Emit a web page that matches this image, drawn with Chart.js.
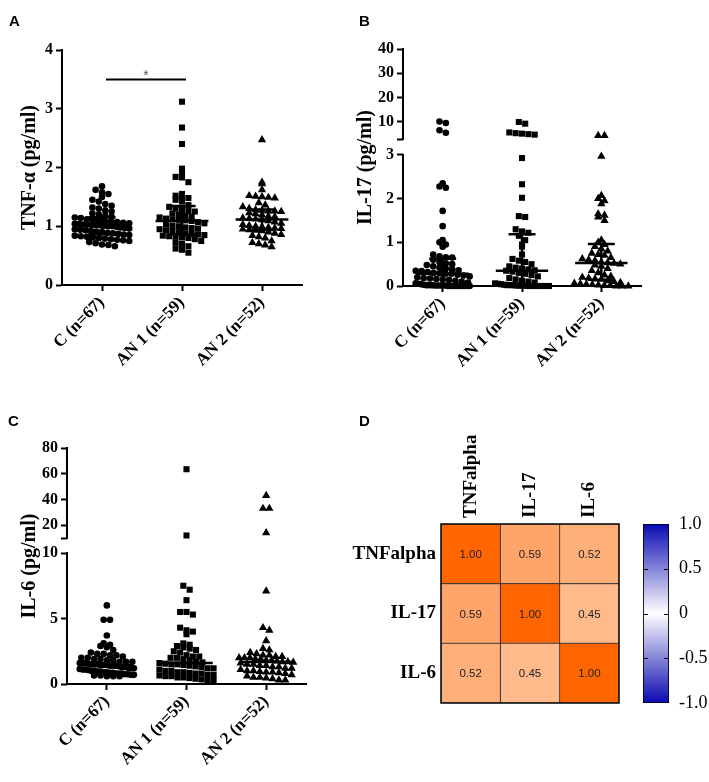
<!DOCTYPE html>
<html>
<head>
<meta charset="utf-8">
<title>Cytokines</title>
<script src="https://cdn.jsdelivr.net/npm/chart.js@4.4.1/dist/chart.umd.min.js"></script>
<style>
  html, body { margin: 0; padding: 0; background: #fff; }
  #fig { position: relative; width: 709px; height: 782px; overflow: hidden; }
  #fig canvas { position: absolute; }
  .tag { position: absolute; font: bold 15px "Liberation Sans", Arial, sans-serif; color: #000; }
</style>
</head>
<body>
<div id="fig">
  <canvas id="chartA" width="340" height="390" style="left:0;top:0"></canvas>
  <canvas id="chartB" width="359" height="390" style="left:350px;top:0"></canvas>
  <canvas id="chartC" width="340" height="392" style="left:0;top:390px"></canvas>
  <canvas id="chartD" width="270" height="392" style="left:350px;top:390px"></canvas>
  <canvas id="chartBar" width="89" height="392" style="left:620px;top:390px"></canvas>
  <div class="tag" style="left:9px;top:12px">A</div>
  <div class="tag" style="left:359px;top:12px">B</div>
  <div class="tag" style="left:8px;top:412px">C</div>
  <div class="tag" style="left:359px;top:412px">D</div>
</div>
<script>
// ==================== data ====================
const groups = ['C (n=67)', 'AN 1 (n=59)', 'AN 2 (n=52)'];

const tnfC = [1.68, 1.62, 1.58, 1.55, 1.50, 1.45, 1.42, 1.38, 1.35, 1.32, 1.30, 1.27, 1.25, 1.22, 1.20, 1.18, 1.16,
  1.15, 1.14, 1.12, 1.11, 1.10, 1.09, 1.08, 1.07, 1.06, 1.05, 1.04, 1.04, 1.03, 1.03, 1.02, 1.02, 1.02,
  1.01, 1.00, 1.00, 0.99, 0.98, 0.97, 0.96, 0.95, 0.94, 0.93, 0.92, 0.91, 0.90, 0.89, 0.88, 0.87,
  0.86, 0.85, 0.84, 0.83, 0.82, 0.81, 0.80, 0.79, 0.78, 0.77, 0.76, 0.75, 0.73, 0.71, 0.69, 0.68, 0.66];
const tnfAN1 = [3.12, 2.68, 2.40, 1.98, 1.92, 1.84, 1.83, 1.75, 1.55, 1.52, 1.50, 1.48, 1.45, 1.42, 1.36,
  1.33, 1.30, 1.28, 1.26, 1.25, 1.22, 1.20, 1.18, 1.16, 1.15, 1.13, 1.12, 1.11, 1.10, 1.09,
  1.07, 1.05, 1.03, 1.01, 1.00, 0.98, 0.97, 0.96, 0.95, 0.93, 0.92, 0.90, 0.88, 0.87,
  0.86, 0.85, 0.84, 0.83, 0.82, 0.81, 0.80, 0.78, 0.75, 0.72, 0.70, 0.66, 0.62, 0.60, 0.55];
const tnfAN2 = [2.47, 1.75, 1.72, 1.62, 1.52, 1.51, 1.50, 1.49, 1.48, 1.40, 1.36, 1.33, 1.30,
  1.28, 1.27, 1.26, 1.26, 1.25, 1.23, 1.21, 1.19, 1.17, 1.16, 1.14, 1.13, 1.12,
  1.11, 1.09, 1.07, 1.05, 1.03, 1.01, 1.00, 0.99, 0.98, 0.97, 0.96, 0.95, 0.94,
  0.93, 0.92, 0.90, 0.88, 0.86, 0.84, 0.82, 0.80, 0.75, 0.72, 0.70, 0.68, 0.65];

const il17C = [10.2, 9.6, 6.6, 5.6,
  2.35, 2.28, 2.25, 1.72, 1.37, 1.05, 1.00, 0.95, 0.90, 0.72, 0.68, 0.66, 0.65,
  0.60, 0.55, 0.52, 0.50, 0.48, 0.45, 0.42, 0.40, 0.38, 0.36, 0.35, 0.34, 0.32, 0.30, 0.29, 0.28, 0.28,
  0.26, 0.24, 0.22, 0.20, 0.18, 0.17, 0.16, 0.15, 0.14, 0.12, 0.10, 0.08, 0.06, 0.05, 0.04, 0.03,
  0.02, 0.02, 0.02, 0.01, 0.01, 0.01, 0.01, 0.01, 0, 0, 0, 0, 0, 0, 0, 0, 0];
const il17AN1 = [10.0, 9.3, 5.7, 5.4, 5.2, 5.0, 4.8,
  2.93, 2.33, 2.02, 1.60, 1.58, 1.30, 1.25, 1.22,
  1.15, 1.05, 0.95, 0.90, 0.72, 0.62, 0.58, 0.55, 0.50, 0.45, 0.42, 0.40, 0.38, 0.36, 0.35,
  0.33, 0.30, 0.28, 0.25, 0.22, 0.18, 0.15, 0.12, 0.10, 0.08, 0.06, 0.05, 0.04, 0.03,
  0.02, 0.02, 0.02, 0.01, 0.01, 0.01, 0.01, 0, 0, 0, 0, 0, 0, 0, 0];
const il17AN2 = [4.4, 4.4,
  2.97, 2.07, 2.00, 1.95, 1.88, 1.65, 1.62, 1.58, 1.50, 1.05, 1.00,
  0.95, 0.90, 0.85, 0.80, 0.75, 0.72, 0.70, 0.65, 0.62, 0.60, 0.58, 0.55, 0.53,
  0.52, 0.50, 0.48, 0.45, 0.40, 0.35, 0.30, 0.25, 0.22, 0.20, 0.18, 0.16, 0.15,
  0.12, 0.10, 0.08, 0.06, 0.05, 0.04, 0.03, 0.02, 0.01, 0.01, 0, 0, 0];

const il6C = [6.0, 4.9, 4.9, 3.7, 3.1, 3.0, 2.9, 2.8, 2.6, 2.4, 2.3, 2.3, 2.2, 2.2, 2.1, 2.0, 2.0,
  1.9, 1.9, 1.8, 1.8, 1.7, 1.7, 1.7, 1.6, 1.6, 1.6, 1.55, 1.5, 1.5, 1.5, 1.45, 1.45, 1.45,
  1.4, 1.4, 1.4, 1.35, 1.3, 1.3, 1.25, 1.2, 1.2, 1.15, 1.1, 1.1, 1.05, 1.0, 1.0, 0.95,
  0.95, 0.9, 0.9, 0.85, 0.85, 0.8, 0.8, 0.8, 0.75, 0.75, 0.7, 0.7, 0.65, 0.65, 0.6, 0.6, 0.6];
const il6AN1 = [63.5, 12.0, 7.5, 7.2, 6.4, 5.5, 5.5, 5.3, 4.3, 4.1, 4.0, 3.8, 3.1, 3.0, 2.9,
  2.8, 2.7, 2.6, 2.5, 2.4, 2.2, 2.1, 2.1, 2.0, 2.0, 1.9, 1.8, 1.7, 1.65, 1.6,
  1.55, 1.5, 1.5, 1.45, 1.4, 1.35, 1.3, 1.2, 1.2, 1.1, 1.0, 1.0, 0.9, 0.9,
  0.85, 0.8, 0.8, 0.7, 0.7, 0.65, 0.6, 0.6, 0.5, 0.5, 0.45, 0.4, 0.35, 0.3, 0.3];
const il6AN2 = [43.0, 33.0, 33.0, 14.0, 7.1, 4.3, 4.1, 3.3, 2.7, 2.6, 2.4, 2.3, 2.2,
  2.2, 2.1, 2.1, 2.0, 2.0, 2.0, 1.9, 1.9, 1.8, 1.8, 1.75, 1.7, 1.7,
  1.65, 1.6, 1.5, 1.5, 1.4, 1.4, 1.3, 1.3, 1.2, 1.2, 1.1, 1.0, 1.0,
  0.95, 0.9, 0.9, 0.85, 0.8, 0.7, 0.6, 0.5, 0.5, 0.45, 0.4, 0.3, 0.3];

const tnfTicks = [0, 1, 2, 3, 4];
const il17TicksLow = [0, 1, 2, 3];
const il17TicksHigh = [3, 10, 20, 30, 40];
const il6TicksLow = [0, 5, 10];
const il6TicksHigh = [10, 20, 40, 60, 80];

const sigFrom = 1.05, sigTo = 2.05, sigLevel = 3.5, sigText = '*';

const heatLabels = ['TNFalpha', 'IL-17', 'IL-6'];
const corrTNF = [1.00, 0.59, 0.52];
const corrIL17 = [0.59, 1.00, 0.45];
const corrIL6 = [0.52, 0.45, 1.00];
const barTicks = [-1, -0.5, 0, 0.5, 1];

// ==================== drawing helpers ====================
const serif = '"Liberation Serif", "Times New Roman", serif';
Chart.defaults.font.family = serif;
Chart.defaults.color = '#000';

// split axes: lower part linear, upper part compressed above a gap
const il17Break = { low: 3, gap: 0.366, k: 0.0557 };
const il6Break = { low: 10, gap: 1.145, k: 0.0982 };

const markerStyles = ['circle', 'rect', 'triangle'];
const markerSizes = [3.3, 4.3, 4.8];

function toAxis(brk, v, upper) {
    if (!brk) return v;
    return (upper || v > brk.low) ? brk.low + brk.gap + (v - brk.low) * brk.k : v;
}

function quantile(vals, q) {
    let s = [...vals].sort((a, b) => a - b);
    let pos = (s.length - 1) * q, lo = Math.floor(pos);
    let hi = Math.min(lo + 1, s.length - 1);
    return s[lo] + (s[hi] - s[lo]) * (pos - lo);
}

// rows of dots like the prism scatter: same row -> spread sideways
function swarm(vals, center, rowH) {
    let rows = {};
    vals.forEach(v => { let k = Math.round(v / rowH); (rows[k] = rows[k] || []).push(v); });
    let pts = [];
    Object.keys(rows).forEach(k => {
        let row = rows[k], n = row.length;
        let step = n > 1 ? Math.min(0.08, 0.68 / (n - 1)) : 0;
        row.forEach((v, i) => pts.push({ x: center + (i - (n - 1) / 2) * step, y: v }));
    });
    return pts;
}

const axisPlugin = {
    id: 'brokenAxis',
    afterDraw(chart, args, opts) {
        if (!opts.brk) return;
        let y = chart.scales.y, x0 = chart.chartArea.left, ctx = chart.ctx;
        ctx.save();
        ctx.strokeStyle = '#000';
        ctx.lineWidth = 2;
        ctx.beginPath();
        ctx.moveTo(x0, y.getPixelForValue(0) + 1);
        ctx.lineTo(x0, y.getPixelForValue(opts.brk.low) - 1);
        ctx.moveTo(x0, y.getPixelForValue(toAxis(opts.brk, opts.brk.low, true)) + 1);
        ctx.lineTo(x0, y.getPixelForValue(y.max) - 1);
        ctx.stroke();
        ctx.restore();
    }
};

const sigPlugin = {
    id: 'sigStar',
    afterDatasetsDraw(chart, args, opts) {
        if (!opts.text) return;
        let { x, y } = chart.scales, ctx = chart.ctx;
        ctx.save();
        ctx.fillStyle = '#555';
        ctx.font = '14px "Liberation Sans", Arial, sans-serif';
        ctx.textAlign = 'center';
        ctx.textBaseline = 'middle';
        ctx.fillText(opts.text, x.getPixelForValue((opts.from + opts.to) / 2), y.getPixelForValue(opts.level) - 3);
        ctx.restore();
    }
};

function dotPlot(id, p) {
    let datasets = p.series.map((vals, i) => ({
        type: 'scatter',
        data: swarm(vals.map(v => toAxis(p.brk, v)), i + 1, p.rowH),
        pointStyle: markerStyles[i], pointRadius: markerSizes[i], pointHoverRadius: markerSizes[i],
        backgroundColor: '#000', borderColor: '#000', borderWidth: 0, clip: false, order: 2
    }));

    // median (and interquartile range) bars
    let summary = [];
    p.series.forEach((vals, i) => {
        let c = i + 1, med = toAxis(p.brk, quantile(vals, 0.5));
        summary.push({ x: c - 0.33, y: med }, { x: c + 0.33, y: med }, { x: c, y: null });
        if (p.iqr) {
            let q1 = toAxis(p.brk, quantile(vals, 0.25)), q3 = toAxis(p.brk, quantile(vals, 0.75));
            summary.push({ x: c - 0.17, y: q3 }, { x: c + 0.17, y: q3 }, { x: c, y: null },
                { x: c, y: q1 }, { x: c, y: q3 }, { x: c, y: null },
                { x: c - 0.17, y: q1 }, { x: c + 0.17, y: q1 }, { x: c, y: null });
        }
    });
    datasets.push({ type: 'line', data: summary, borderColor: '#000', borderWidth: 2.5, pointRadius: 0,
        fill: false, spanGaps: false, clip: false, order: 1 });
    if (p.sig) {
        datasets.push({ type: 'line', data: [{ x: sigFrom, y: sigLevel }, { x: sigTo, y: sigLevel }],
            borderColor: '#000', borderWidth: 2, pointRadius: 0, fill: false, order: 1 });
    }

    let yTicks = p.ticksLow.map(v => ({ value: v, label: String(v) }));
    if (p.brk) p.ticksHigh.forEach((v, j) => yTicks.push({ value: toAxis(p.brk, v, true), label: j ? String(v) : '' }));
    let yMax = yTicks[yTicks.length - 1].value;

    let tickGrid = { display: true, drawOnChartArea: false, drawTicks: true, tickLength: 6, tickWidth: 2, tickColor: '#000' };

    return new Chart(document.getElementById(id), {
        type: 'scatter',
        data: { datasets },
        options: {
            responsive: false, animation: false, events: [],
            layout: { padding: { left: p.pad[0], top: p.pad[1], right: p.pad[2], bottom: 0 } },
            plugins: {
                legend: { display: false }, tooltip: { enabled: false },
                brokenAxis: { brk: p.brk },
                sigStar: p.sig ? { text: sigText, from: sigFrom, to: sigTo, level: sigLevel } : {}
            },
            scales: {
                x: {
                    type: 'linear', min: 0.5, max: 3.5,
                    afterBuildTicks: s => { s.ticks = groups.map((g, i) => ({ value: i + 1 })); },
                    afterFit: s => { s.height = p.xH; s.paddingLeft = 0; s.paddingRight = 0; },
                    ticks: { autoSkip: false, minRotation: 45, maxRotation: 45, padding: 2, color: '#000',
                        font: { family: serif, weight: 'bold', size: 17 }, callback: v => groups[v - 1] },
                    grid: tickGrid,
                    border: { display: true, color: '#000', width: 2 }
                },
                y: {
                    type: 'linear', min: 0, max: yMax,
                    afterBuildTicks: s => { s.ticks = yTicks.map(t => ({ value: t.value })); },
                    afterFit: s => { s.width = p.yW; s.paddingTop = 0; s.paddingBottom = 0; },
                    ticks: { autoSkip: false, padding: 3, color: '#000',
                        font: { family: serif, weight: 'bold', size: 16 }, callback: (v, i) => yTicks[i].label },
                    grid: tickGrid,
                    border: { display: !p.brk, color: '#000', width: 2 },
                    title: { display: true, text: p.title, color: '#000',
                        font: { family: serif, weight: 'bold', size: 20 }, padding: { top: 4, bottom: 4 } }
                }
            }
        },
        plugins: [axisPlugin, sigPlugin]
    });
}

dotPlot('chartA', { series: [tnfC, tnfAN1, tnfAN2], title: 'TNF-α (pg/ml)', ticksLow: tnfTicks,
    rowH: 0.1, iqr: true, sig: true, pad: [14, 50, 38], yW: 48, xH: 105 });
dotPlot('chartB', { series: [il17C, il17AN1, il17AN2], title: 'IL-17 (pg/ml)', ticksLow: il17TicksLow,
    ticksHigh: il17TicksHigh, brk: il17Break, rowH: 0.14, iqr: true, pad: [0, 49, 68], yW: 53, xH: 104 });
dotPlot('chartC', { series: [il6C, il6AN1, il6AN2], title: 'IL-6 (pg/ml)', ticksLow: il6TicksLow,
    ticksHigh: il6TicksHigh, brk: il6Break, rowH: 0.46, iqr: false, pad: [14, 58, 34], yW: 53, xH: 98 });

// ==================== correlation heatmap ====================
const corrRows = [corrTNF, corrIL17, corrIL6];

function heatColor(r) {
    let t = Math.max(0, Math.min(1, r));
    return `rgb(255, ${Math.round(255 - 153 * t)}, ${Math.round(255 - 255 * t)})`;
}

const heatPlugin = {
    id: 'heatText',
    afterDatasetsDraw(chart) {
        let ctx = chart.ctx, area = chart.chartArea, xs = chart.scales.x;
        ctx.save();
        ctx.fillStyle = '#222';
        ctx.font = '11.5px "Liberation Sans", Arial, sans-serif';
        ctx.textAlign = 'center';
        ctx.textBaseline = 'middle';
        chart.data.datasets.forEach((ds, j) => {
            chart.getDatasetMeta(j).data.forEach((bar, i) => {
                let c = bar.getCenterPoint();
                ctx.fillText(corrRows[i][j].toFixed(2), c.x, c.y + 1);
            });
        });
        ctx.strokeStyle = '#111';
        ctx.lineWidth = 1.6;
        ctx.strokeRect(area.left, area.top, area.right - area.left, area.bottom - area.top);
        // column names above the grid
        ctx.fillStyle = '#000';
        ctx.font = 'bold 19px ' + serif;
        ctx.textAlign = 'left';
        heatLabels.forEach((name, j) => {
            ctx.save();
            ctx.translate(xs.getPixelForValue(j + 0.5), area.top - 6);
            ctx.rotate(-Math.PI / 2);
            ctx.fillText(name, 0, 0);
            ctx.restore();
        });
        ctx.restore();
    }
};

new Chart(document.getElementById('chartD'), {
    type: 'bar',
    data: {
        labels: heatLabels,
        datasets: heatLabels.map((name, j) => ({
            label: name,
            data: corrRows.map(() => 1),
            backgroundColor: corrRows.map(r => heatColor(r[j])),
            borderColor: '#333', borderWidth: 0.8, borderSkipped: false,
            barPercentage: 1, categoryPercentage: 1
        }))
    },
    options: {
        indexAxis: 'y', responsive: false, animation: false, events: [],
        layout: { padding: { left: 0, top: 134, right: 1, bottom: 79 } },
        plugins: { legend: { display: false }, tooltip: { enabled: false } },
        scales: {
            x: { stacked: true, min: 0, max: 3, display: false },
            y: {
                stacked: true,
                afterFit: s => { s.width = 91; },
                grid: { display: false, drawTicks: false },
                border: { display: false },
                ticks: { color: '#000', padding: 5, font: { family: serif, weight: 'bold', size: 19 } }
            }
        }
    },
    plugins: [heatPlugin]
});

// ==================== colour bar ====================
function barGradient(chart) {
    let { ctx, chartArea } = chart;
    if (!chartArea) return '#fff';
    let y = chart.scales.y;
    let g = ctx.createLinearGradient(0, y.getPixelForValue(1), 0, y.getPixelForValue(-1));
    g.addColorStop(0, '#0A0AB2');
    g.addColorStop(0.5, '#FFFFFF');
    g.addColorStop(1, '#0A0AB2');
    return g;
}

const barTickPlugin = {
    id: 'barTicks',
    afterDatasetsDraw(chart) {
        let ctx = chart.ctx, { left, right } = chart.chartArea, y = chart.scales.y;
        ctx.save();
        ctx.strokeStyle = '#000';
        ctx.lineWidth = 1.2;
        ctx.beginPath();
        y.ticks.slice(1, -1).forEach(t => {
            let py = Math.round(y.getPixelForValue(t.value)) + 0.5;
            ctx.moveTo(left, py); ctx.lineTo(left + 5, py);
            ctx.moveTo(right - 5, py); ctx.lineTo(right, py);
        });
        ctx.stroke();
        ctx.restore();
    }
};

new Chart(document.getElementById('chartBar'), {
    type: 'bar',
    data: {
        labels: [''],
        datasets: [{
            data: [[barTicks[0], barTicks[barTicks.length - 1]]],
            backgroundColor: c => barGradient(c.chart),
            borderColor: '#000', borderWidth: 1.2, borderSkipped: false,
            barPercentage: 1, categoryPercentage: 1
        }]
    },
    options: {
        responsive: false, animation: false, events: [],
        layout: { padding: { left: 23, top: 134, right: 0, bottom: 79 } },
        plugins: { legend: { display: false }, tooltip: { enabled: false } },
        scales: {
            x: { display: false },
            y: {
                position: 'right', min: -1, max: 1,
                afterBuildTicks: s => { s.ticks = barTicks.map(v => ({ value: v })); },
                afterFit: s => { s.width = 40; s.paddingTop = 0; s.paddingBottom = 0; },
                grid: { display: false, drawTicks: false },
                border: { display: false },
                ticks: { color: '#000', padding: 10, font: { family: serif, size: 18 },
                    callback: v => v === 0 ? '0' : v.toFixed(1) }
            }
        }
    },
    plugins: [barTickPlugin]
});
</script>
</body>
</html>
